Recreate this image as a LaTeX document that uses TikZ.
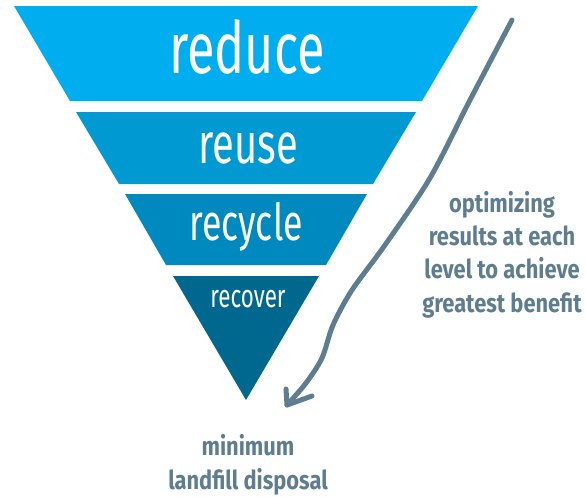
\documentclass[tikz,border=0pt]{standalone}
\usepackage{fontspec}
\setmainfont{Fira Sans}[FakeStretch=0.70]
\newfontfamily\greyfont{Fira Sans}[FakeStretch=0.84]
\definecolor{cReduce}{RGB}{0,174,239}
\definecolor{cReuse}{RGB}{0,153,210}
\definecolor{cRecycle}{RGB}{0,137,191}
\definecolor{cRecover}{RGB}{0,104,142}
\definecolor{cGrey}{RGB}{94,125,145}
\tikzset{
  layertext/.style={text=white, anchor=base, inner sep=0pt},
  notetext/.style={text=cGrey, align=center, inner sep=0pt, font=\greyfont\bfseries\fontsize{26}{33.3}\selectfont},
  flowline/.style={draw=cGrey, line width=5pt, line cap=round, line join=round}
}
\begin{document}
\begin{tikzpicture}[x=1pt,y=-1pt]
\useasboundingbox (0,0) rectangle (586,496);
% layers
\fill[cReduce] (14,6) -- (478,6) -- (422,101) -- (70,101) -- cycle;
\fill[cReuse] (76,112) -- (416,112) -- (373,184) -- (119,184) -- cycle;
\fill[cRecycle] (125,194) -- (367,194) -- (326,265) -- (166,265) -- cycle;
\fill[cRecover] (173,276) -- (319,276) -- (246,400) -- cycle;
% labels
\node[layertext, font=\fontsize{72}{72}\selectfont] (reduce) at (247,73) {reduce};
\node[layertext, font=\fontsize{57}{57}\selectfont] (reuse) at (248,163) {reuse};
\node[layertext, font=\fontsize{51}{51}\selectfont] (recycle) at (246,240) {recycle};
\node[layertext, font=\fontsize{32}{32}\selectfont] (recover) at (248,307) {recover};
\node[notetext, anchor=base] (note) at (502,312) {optimizing\\results at each\\level to achieve\\greatest benefit};
\node[notetext, anchor=base] (bottom) at (248,489) {minimum\\landfill disposal};
% arrow
\coordinate (astart) at (512,20);
\coordinate (atip) at (287,405);
\coordinate (arm1) at (286,389);
\coordinate (arm2) at (312,396);
\draw[flowline] plot[smooth, tension=0.5] coordinates {(astart) (470,100) (430,178) (385,245) (352,290) (333,325) (322,358) (306,383) (atip)};
\draw[flowline] (arm1) -- (atip) -- (arm2);
\end{tikzpicture}
\end{document}
